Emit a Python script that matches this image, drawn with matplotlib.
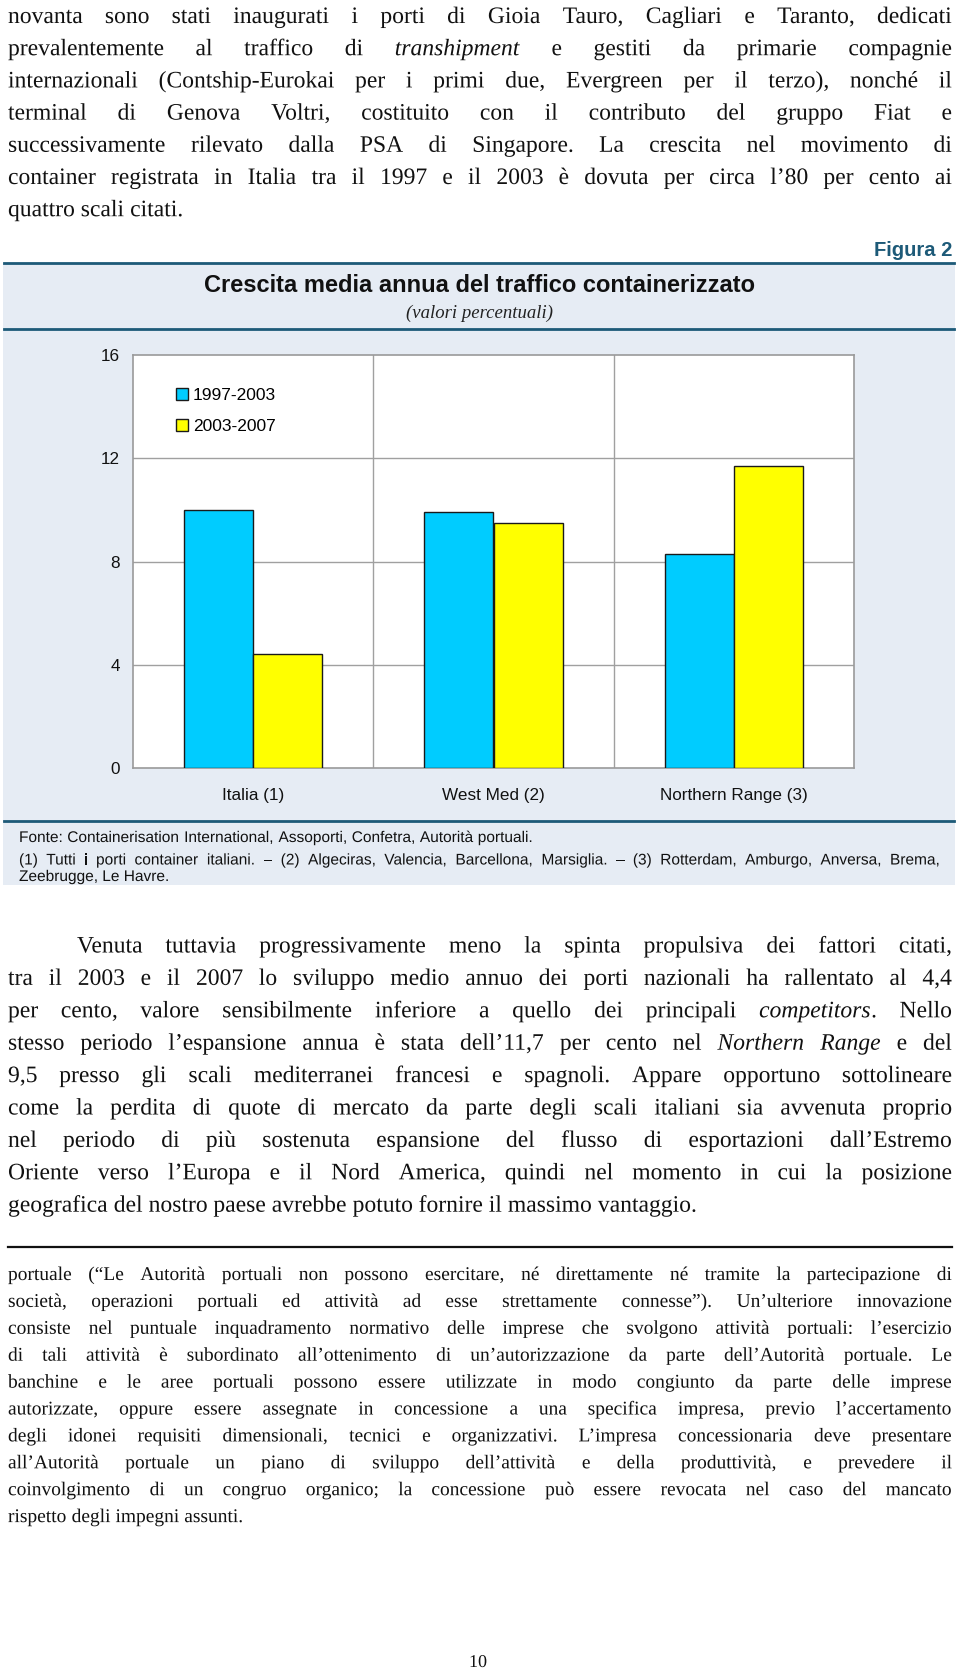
#!/usr/bin/env python3
"""Page with Figura 2: crescita media annua del traffico containerizzato."""

import matplotlib
matplotlib.use("Agg")
import matplotlib.pyplot as plt
import numpy as np
from matplotlib.font_manager import FontProperties
from matplotlib.lines import Line2D
from matplotlib.patches import PathPatch, Rectangle
from matplotlib.textpath import TextPath
from matplotlib.transforms import Affine2D

W, H = 960, 1671
DPI = 100

# ---------- chart data ----------
categories = ["Italia (1)", "West Med (2)", "Northern Range (3)"]
periods = ["1997-2003", "2003-2007"]
growth_9703 = [10.0, 9.9, 8.3]
growth_0307 = [4.4, 9.5, 11.7]
y_ticks = [0, 4, 8, 12, 16]

chart_title = "Crescita media annua del traffico containerizzato"
chart_subtitle = "(valori percentuali)"
figure_label = "Figura 2"
source_note = "Fonte: Containerisation International, Assoporti, Confetra, Autorità portuali."
area_note = ["(1) Tutti i porti container italiani. – (2) Algeciras, Valencia, Barcellona, "
             "Marsiglia. – (3) Rotterdam, Amburgo, Anversa, Brema,",
             "Zeebrugge, Le Havre."]

# ---------- page text (one entry per printed line, *...* = italic) ----------
para_top = [
    "novanta sono stati inaugurati i porti di Gioia Tauro, Cagliari e Taranto, dedicati",
    "prevalentemente al traffico di *transhipment* e gestiti da primarie compagnie",
    "internazionali (Contship-Eurokai per i primi due, Evergreen per il terzo), nonché il",
    "terminal di Genova Voltri, costituito con il contributo del gruppo Fiat e",
    "successivamente rilevato dalla PSA di Singapore. La crescita nel movimento di",
    "container registrata in Italia tra il 1997 e il 2003 è dovuta per circa l’80 per cento ai",
    "quattro scali citati.",
]
para_mid = [
    "Venuta tuttavia progressivamente meno la spinta propulsiva dei fattori citati,",
    "tra il 2003 e il 2007 lo sviluppo medio annuo dei porti nazionali ha rallentato al 4,4",
    "per cento, valore sensibilmente inferiore a quello dei principali *competitors*. Nello",
    "stesso periodo l’espansione annua è stata dell’11,7 per cento nel *Northern Range* e del",
    "9,5 presso gli scali mediterranei francesi e spagnoli. Appare opportuno sottolineare",
    "come la perdita di quote di mercato da parte degli scali italiani sia avvenuta proprio",
    "nel periodo di più sostenuta espansione del flusso di esportazioni dall’Estremo",
    "Oriente verso l’Europa e il Nord America, quindi nel momento in cui la posizione",
    "geografica del nostro paese avrebbe potuto fornire il massimo vantaggio.",
]
footnote = [
    "portuale (“Le Autorità portuali non possono esercitare, né direttamente né tramite la partecipazione di",
    "società, operazioni portuali ed attività ad esse strettamente connesse”). Un’ulteriore innovazione",
    "consiste nel puntuale inquadramento normativo delle imprese che svolgono attività portuali: l’esercizio",
    "di tali attività è subordinato all’ottenimento di un’autorizzazione da parte dell’Autorità portuale. Le",
    "banchine e le aree portuali possono essere utilizzate in modo congiunto da parte delle imprese",
    "autorizzate, oppure essere assegnate in concessione a una specifica impresa, previo l’accertamento",
    "degli idonei requisiti dimensionali, tecnici e organizzativi. L’impresa concessionaria deve presentare",
    "all’Autorità portuale un piano di sviluppo dell’attività e della produttività, e prevedere il",
    "coinvolgimento di un congruo organico; la concessione può essere revocata nel caso del mancato",
    "rispetto degli impegni assunti.",
]

TEAL = "#1d5a78"
PANEL = "#e6ecf4"
BLUE = "#00ccff"
YELLOW = "#ffff00"
INK = "#111111"
SERIF = "Liberation Serif"
SANS = "Liberation Sans"

fig = plt.figure(figsize=(W / DPI, H / DPI), dpi=DPI)
fig.patch.set_facecolor("white")
renderer = fig.canvas.get_renderer()


def fx(x):
    return x / W


def fy(y):
    return 1 - y / H


def text_w(s, fp):
    w, _, _ = renderer.get_text_width_height_descent(s, fp, ismath=False)
    return w


def fprop(family, it, size):
    return FontProperties(family=family, style="italic" if it else "normal", size=size)


def put_word(x, y, s, fp):
    # words are drawn as outlines so that every word sits exactly on the baseline
    tp = TextPath((0, 0), s, size=fp.get_size_in_points(), prop=fp)
    tr = (Affine2D().scale(DPI / 72).translate(x, H - y).scale(1 / W, 1 / H)
          + fig.transFigure)
    fig.add_artist(PathPatch(tp, transform=tr, facecolor=INK, edgecolor="none", lw=0))


def words_of(line):
    # each word is a list of (piece, italic) so "*competitors*." works
    words = [[]]
    for k, seg in enumerate(line.split("*")):
        it = k % 2 == 1
        for j, p in enumerate(seg.split(" ")):
            if j > 0:
                words.append([])
            if p:
                words[-1].append((p, it))
    return [w for w in words if w]


def word_w(word, family, size):
    return sum(text_w(p, fprop(family, it, size)) for p, it in word)


def fit_size(lines, x0s, x1, family, max_size):
    # largest size at which every justified line still fits with a normal-ish space
    best = max_size
    for line, x0 in zip(lines, x0s):
        ws = words_of(line)
        nat = sum(word_w(w, family, 10) for w in ws)
        sp = text_w(" ", fprop(family, False, 10)) * 0.8 * (len(ws) - 1)
        best = min(best, 10 * (x1 - x0) / (nat + sp))
    return best


def draw_block(lines, x0s, x1, baseline0, step, family, size, justify_last=False):
    for i, (line, x0) in enumerate(zip(lines, x0s)):
        ws = words_of(line)
        widths = [word_w(w, family, size) for w in ws]
        last = i == len(lines) - 1
        if last and not justify_last:
            gap = text_w(" ", fprop(family, False, size))
        else:
            gap = (x1 - x0 - sum(widths)) / max(len(ws) - 1, 1)
        x = x0
        y = baseline0 + i * step
        for word, wd in zip(ws, widths):
            px = x
            for p, it in word:
                fp = fprop(family, it, size)
                put_word(px, y, p, fp)
                px += text_w(p, fp)
            x += wd + gap


# ---------- body text above the chart ----------
L, R = 8, 952
x0s = [L] * len(para_top)
s_top = fit_size(para_top[:-1], x0s[:-1], R, SERIF, 17)
draw_block(para_top, x0s, R, 23, 32.2, SERIF, s_top)

# ---------- figure panel ----------
fig.patches.append(Rectangle((fx(3), fy(885)), fx(955) - fx(3), fy(263) - fy(885),
                             transform=fig.transFigure, facecolor=PANEL,
                             edgecolor="none", zorder=-5))
for yy in (263, 329, 821):
    fig.lines.append(Line2D([fx(4), fx(954)], [fy(yy), fy(yy)], transform=fig.transFigure,
                            color=TEAL, lw=2.0, zorder=-4))
fig.text(fx(952), fy(250), figure_label, ha="right", va="center", fontsize=14.5,
         fontweight="bold", family=SANS, color=TEAL)
fig.text(fx(480), fy(286), chart_title, ha="center", va="center", fontsize=17,
         fontweight="bold", family=SANS, color=INK)
fig.text(fx(480), fy(313), chart_subtitle, ha="center", va="center", fontsize=13.5,
         style="italic", family=SERIF, color="#222222")

ax = fig.add_axes([fx(133), fy(768), fx(854) - fx(133), fy(355) - fy(768)])
ax.set_zorder(2)
ax.set_facecolor("white")
xpos = np.arange(len(categories))
bw = 0.2875
b1 = ax.bar(xpos - bw / 2, growth_9703, bw, color=BLUE, edgecolor="#1a1a1a",
            linewidth=1.0, label=periods[0], zorder=3)
b2 = ax.bar(xpos + bw / 2, growth_0307, bw, color=YELLOW, edgecolor="#1a1a1a",
            linewidth=1.0, label=periods[1], zorder=3)
ax.set_xlim(-0.5, len(categories) - 0.5)
ax.set_ylim(y_ticks[0], y_ticks[-1])
ax.set_yticks(y_ticks)
ax.set_yticklabels([str(t) for t in y_ticks], family=SANS, fontsize=12.3)
ax.set_xticks(xpos)
ax.set_xticklabels(categories, family=SANS, fontsize=12.3)
ax.tick_params(axis="both", length=0, colors=INK)
ax.tick_params(axis="y", pad=9.5)
ax.tick_params(axis="x", pad=14.5)
for yv in y_ticks[1:-1]:
    ax.axhline(yv, color="#a0a0a0", lw=1.0, zorder=1)
for xv in xpos[:-1] + 0.5:
    ax.axvline(xv, color="#a0a0a0", lw=1.0, zorder=1)
for sp in ax.spines.values():
    sp.set_color("#9a9a9a")
    sp.set_linewidth(1.2)
leg = ax.legend(handles=[b1, b2], loc="upper left", bbox_to_anchor=(0.05, 0.937),
                frameon=False, borderaxespad=0, handlelength=0.68, handleheight=0.68,
                handletextpad=0.3, labelspacing=0.9, prop={"family": SANS, "size": 12.5})

# notes inside the panel
fs_fonte = 10 * 511 / text_w(source_note, FontProperties(family=SANS, size=10))
draw_block([source_note], [19], 940, 842, 0, SANS, fs_fonte)
draw_block([area_note[0]], [19], 940, 864.5, 0, SANS, fs_fonte, justify_last=True)
draw_block([area_note[1]], [19], 940, 881, 0, SANS, fs_fonte)

# ---------- body text below the chart ----------
x0s = [77] + [L] * (len(para_mid) - 1)
s_mid = fit_size(para_mid[:-1], x0s[:-1], R, SERIF, 17)
draw_block(para_mid, x0s, R, 952.5, 32.4, SERIF, s_mid)

fig.lines.append(Line2D([fx(8), fx(952)], [fy(1247), fy(1247)], transform=fig.transFigure,
                        color=INK, lw=1.6))
x0s = [L] * len(footnote)
s_fn = fit_size(footnote[:-1], x0s[:-1], R, SERIF, 14)
draw_block(footnote, x0s, R, 1280, 26.9, SERIF, s_fn)

draw_block(["10"], [469], 491, 1667, 0, SERIF, 13)

fig.savefig("out.png", dpi=DPI, facecolor="white")
